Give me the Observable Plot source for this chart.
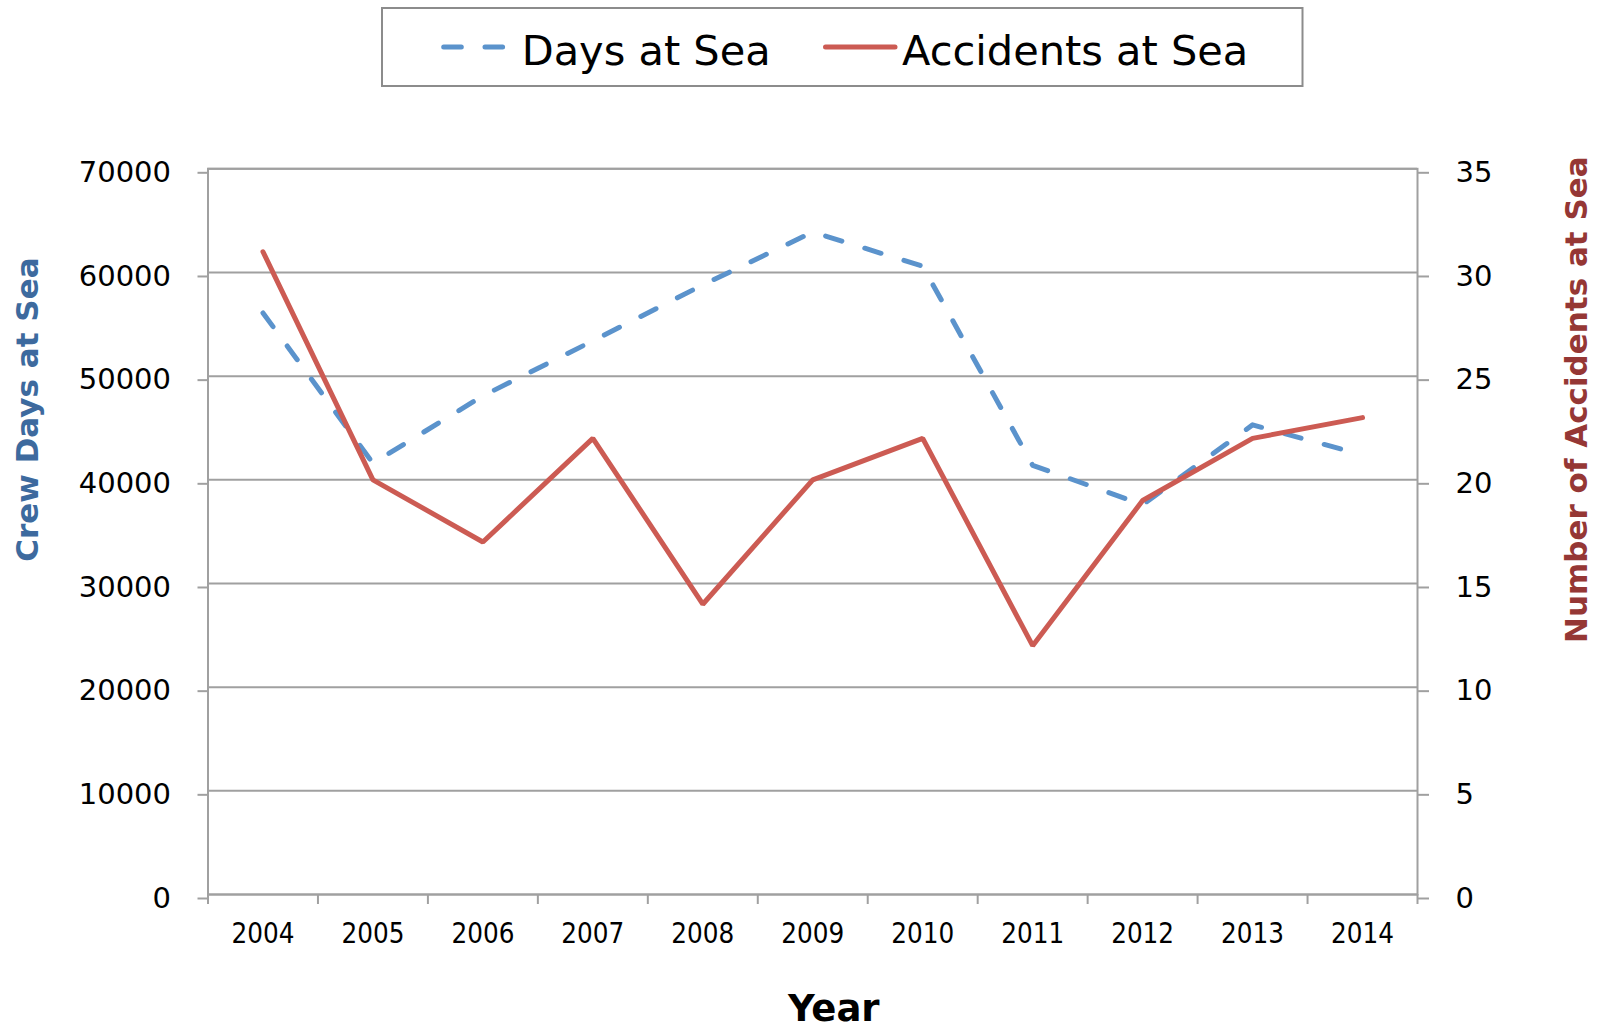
<!DOCTYPE html>
<html>
<head>
<meta charset="utf-8">
<script src="https://cdn.jsdelivr.net/npm/d3@7"></script>
<script src="https://cdn.jsdelivr.net/npm/@observablehq/plot@0.6"></script>
<style>
  html, body { margin: 0; padding: 0; background: #fff; }
  #wrap { position: relative; width: 1598px; height: 1034px; overflow: hidden; }
  #legend { position: absolute; left: 0; top: 0; }
  #chart { position: absolute; left: 0; top: 95px; }
</style>
</head>
<body>
<div id="wrap">
  <svg id="legend" width="1598" height="95" xmlns="http://www.w3.org/2000/svg"></svg>
  <div id="chart"></div>
</div>
<script>
// ---- data ----
const years = [2004, 2005, 2006, 2007, 2008, 2009, 2010, 2011, 2012, 2013, 2014];
const daysAtSea = [56100, 41600, 48100, 53400, 58800, 63900, 60600, 41400, 37600, 45300, 42400];
const accidentsAtSea = [31, 20, 17, 22, 14, 20, 22, 12, 19, 22, 23];
const leftTicks = [0, 10000, 20000, 30000, 40000, 50000, 60000, 70000];
const rightTicks = [0, 5, 10, 15, 20, 25, 30, 35];
const seriesNames = ["Days at Sea", "Accidents at Sea"];
const leftTitle = "Crew Days at Sea";
const rightTitle = "Number of Accidents at Sea";
const xTitle = "Year";

// ---- styles ----
const blue = "#5b93cc";
const red = "#cc5b53";
const gridColor = "#a0a0a0";
const dash = "17,24";

// right axis maps onto left scale
const ratio = leftTicks[leftTicks.length - 1] / rightTicks[rightTicks.length - 1];
const rows = years.map((y, i) => ({year: y, days: daysAtSea[i], acc: accidentsAtSea[i]}));
const boundaries = [years[0] - 0.5, ...years.map(y => y + 0.5)];

const chart = Plot.plot({
  width: 1598,
  height: 939,
  marginLeft: 207.5,
  marginRight: 181,
  marginTop: 73.3,
  marginBottom: 140,
  x: {type: "linear", domain: [years[0] - 0.5, years[years.length - 1] + 0.5]},
  y: {domain: [0, leftTicks[leftTicks.length - 1]]},
  style: {fontFamily: "DejaVu Sans", background: "#fff", color: "#000", overflow: "visible"},
  marks: [
    Plot.gridY(leftTicks, {stroke: gridColor, strokeWidth: 2, strokeOpacity: 1}),
    Plot.frame({stroke: gridColor, strokeWidth: 2}),
    Plot.axisY(leftTicks, {anchor: "left", label: null, tickSize: 10, tickPadding: 27,
      tickFormat: d => String(d), fontSize: 29, dy: 4, stroke: gridColor, strokeWidth: 2, strokeOpacity: 1, fill: "#000"}),
    Plot.axisY(leftTicks, {anchor: "right", label: null, tickSize: 11, tickPadding: 27,
      tickFormat: d => String(d / ratio), fontSize: 29, dy: 4, stroke: gridColor, strokeWidth: 2, strokeOpacity: 1, fill: "#000"}),
    Plot.axisX(boundaries, {anchor: "bottom", label: null, tickSize: 10, tickFormat: () => "",
      stroke: gridColor, strokeWidth: 2, strokeOpacity: 1}),
    Plot.axisX(years, {anchor: "bottom", label: null, tickSize: 0, tickPadding: 29,
      tickFormat: d => String(d), fontSize: 27.5, fontFamily: "DejaVu Sans Condensed", fill: "#000"}),
    Plot.line(rows, {x: "year", y: "days", stroke: blue, strokeWidth: 5,
      strokeDasharray: dash, strokeLinecap: "round", strokeLinejoin: "round"}),
    Plot.line(rows, {x: "year", y: d => d.acc * ratio, stroke: red, strokeWidth: 5,
      strokeLinejoin: "miter", strokeLinecap: "round"}),
    Plot.text([leftTitle], {frameAnchor: "left", rotate: -90, dx: -179.5, dy: -122,
      textAnchor: "middle", lineAnchor: "middle",
      fontSize: 31, fontWeight: "bold", fill: "#3d6a9e", text: d => d}),
    Plot.text([rightTitle], {frameAnchor: "right", rotate: -90, dx: 160, dy: -132,
      textAnchor: "middle", lineAnchor: "middle",
      fontSize: 31, fontWeight: "bold", fill: "#953735", text: d => d}),
    Plot.text([xTitle], {frameAnchor: "bottom", dx: 21, dy: 114.5,
      textAnchor: "middle", lineAnchor: "middle",
      fontSize: 37, fontWeight: "bold", fill: "#000", text: d => d})
  ]
});
document.getElementById("chart").appendChild(chart);

// ---- legend (above the plot SVG) ----
const lg = d3.select("#legend");
lg.append("rect").attr("x", 382).attr("y", 8).attr("width", 920.5).attr("height", 78)
  .attr("fill", "#fff").attr("stroke", "#8c8c8c").attr("stroke-width", 2);
lg.append("line").attr("x1", 443.7).attr("x2", 503).attr("y1", 47).attr("y2", 47)
  .attr("stroke", blue).attr("stroke-width", 5).attr("stroke-dasharray", "17.6,23.7").attr("stroke-linecap", "round");
lg.append("text").attr("x", 521.7).attr("y", 65).text(seriesNames[0])
  .attr("font-family", "DejaVu Sans").attr("font-size", 41.5).attr("fill", "#000");
lg.append("line").attr("x1", 825.5).attr("x2", 895).attr("y1", 47).attr("y2", 47)
  .attr("stroke", red).attr("stroke-width", 5).attr("stroke-linecap", "round");
lg.append("text").attr("x", 902).attr("y", 65).text(seriesNames[1])
  .attr("font-family", "DejaVu Sans").attr("font-size", 41.5).attr("fill", "#000");
</script>
</body>
</html>
